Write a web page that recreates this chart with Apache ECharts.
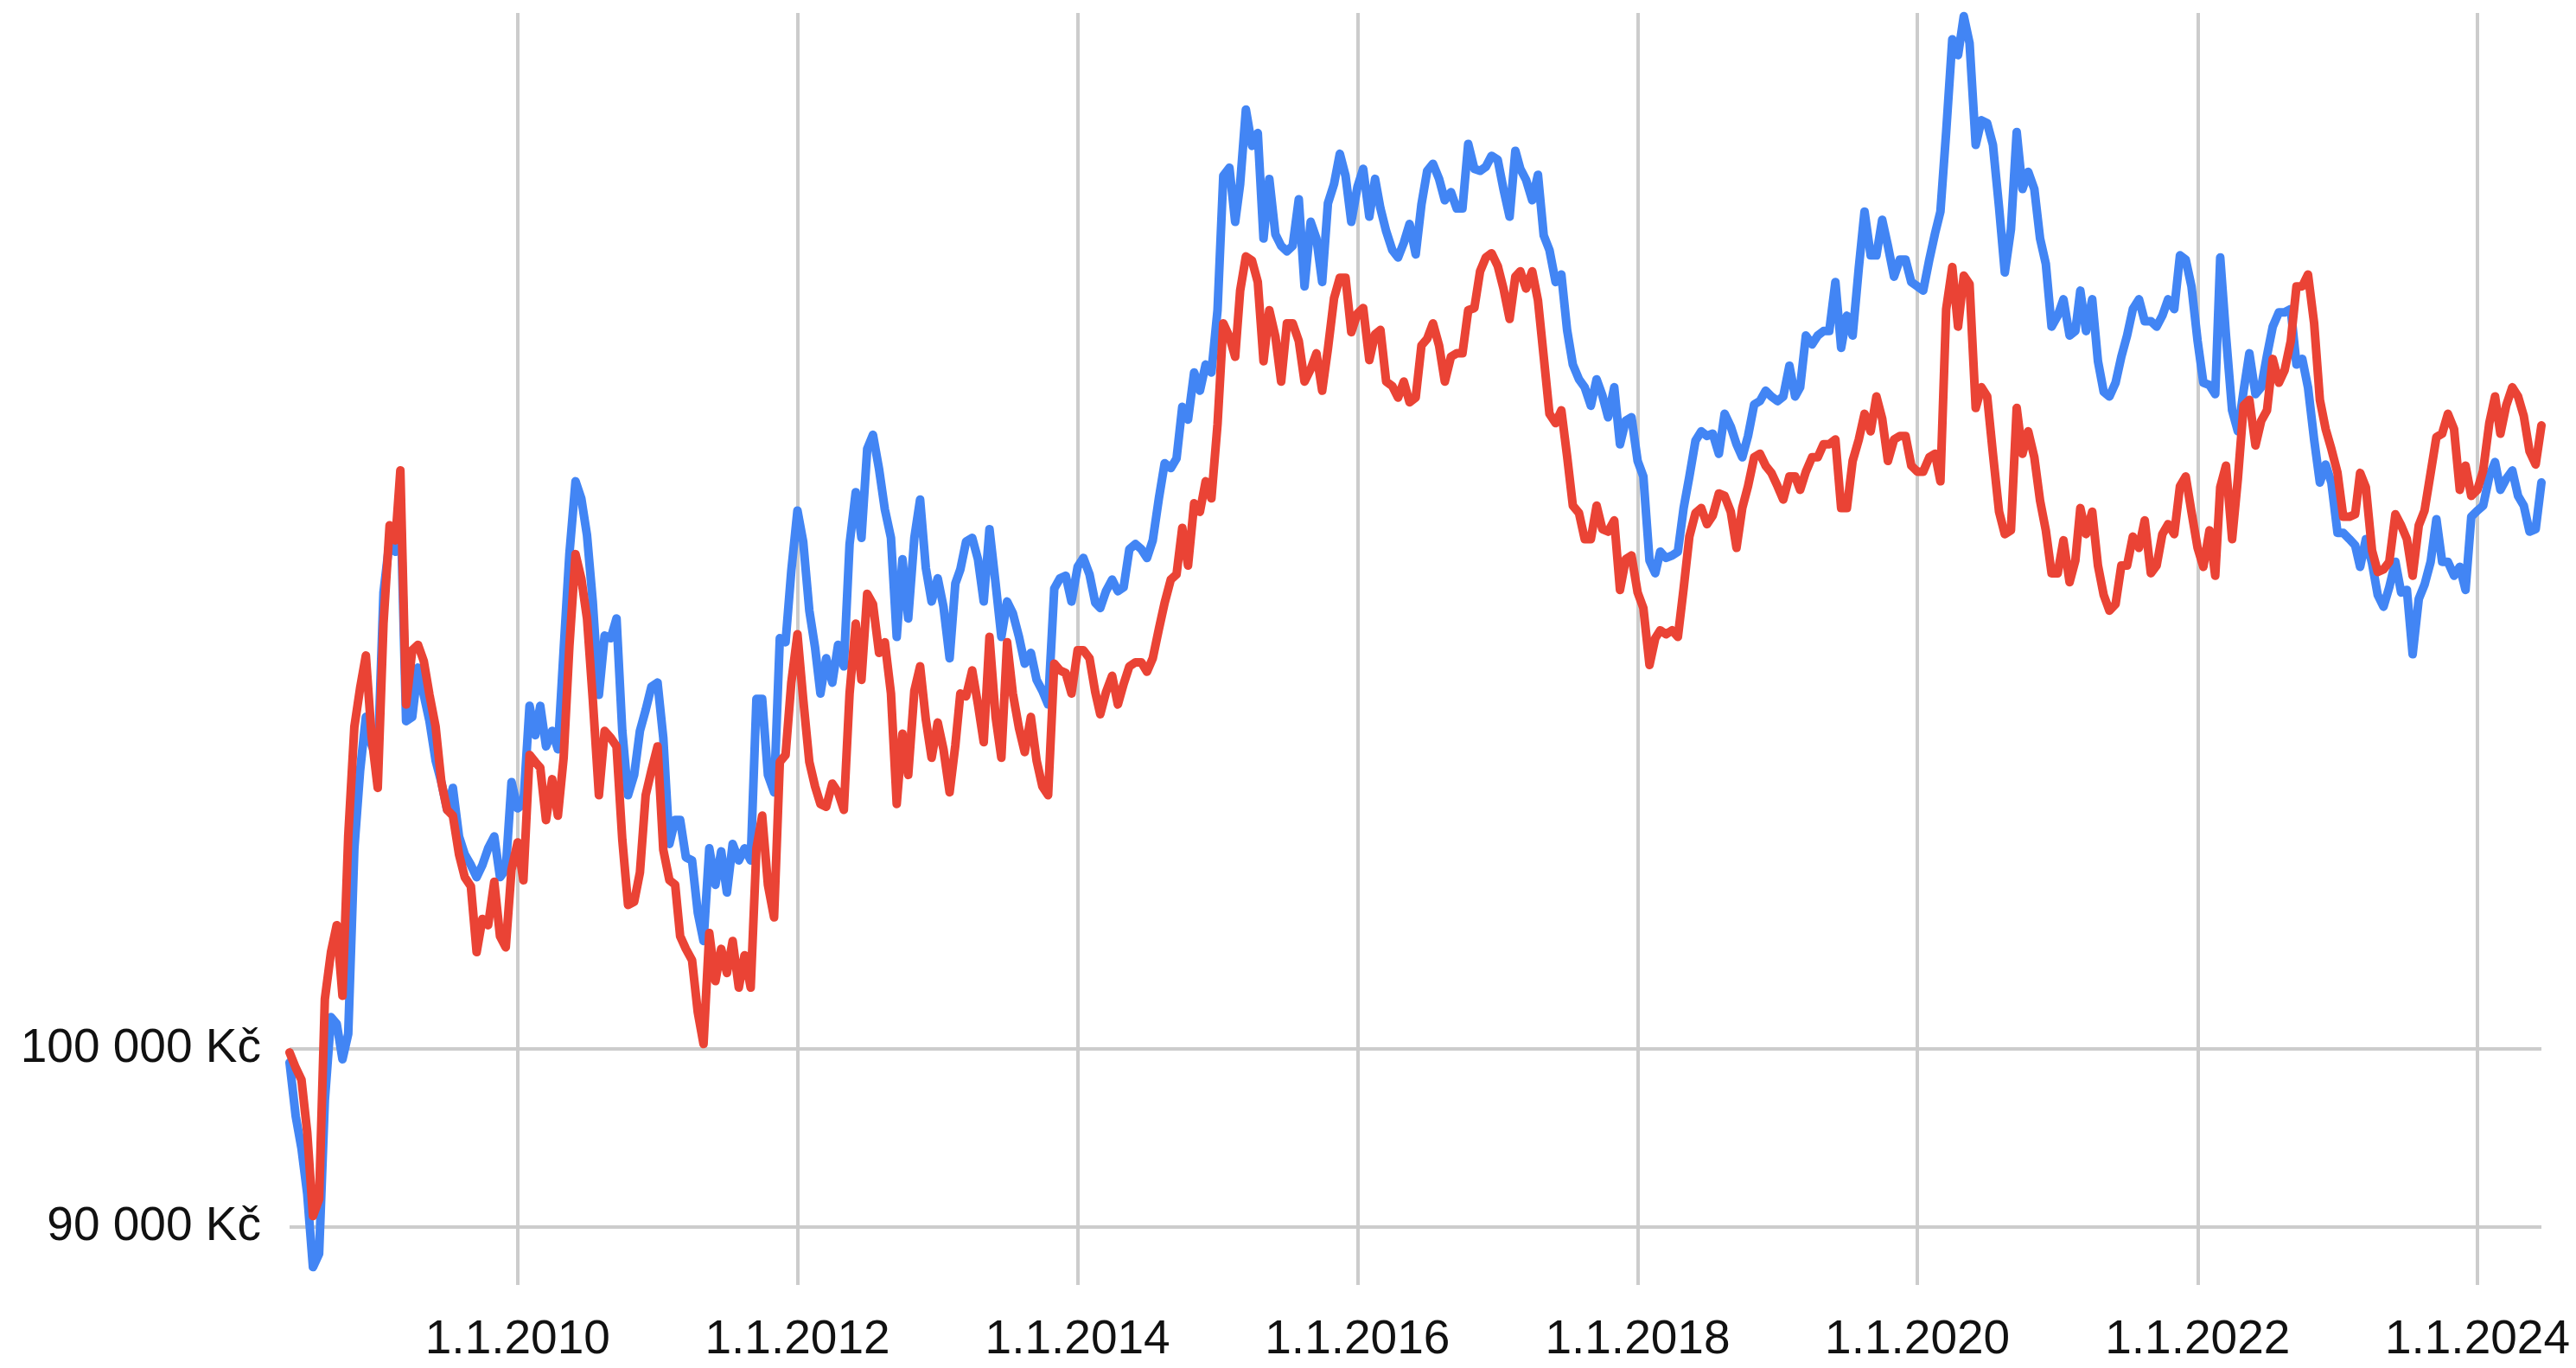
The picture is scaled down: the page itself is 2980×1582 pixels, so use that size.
<!DOCTYPE html>
<html>
<head>
<meta charset="utf-8">
<script src="https://cdn.jsdelivr.net/npm/echarts@6/dist/echarts.min.js"></script>
<style>
  html, body { margin: 0; padding: 0; background: #fff; }
  #chart { width: 2980px; height: 1582px; }
</style>
</head>
<body>
<div id="chart"></div>
<script>
// semi-monthly dates (1st and 16th), 16.5.2008 - 16.6.2024
const startDate = new Date(2008, 4, 16)
const endDate = new Date(2024, 5, 16)
const dates = []
for (let y = 2008; y <= 2024; y++) {
  for (let m = 0; m < 12; m++) {
    for (const d of [1, 16]) {
      const t = new Date(y, m, d)
      if (t >= startDate && t <= endDate) dates.push(t.getTime())
    }
  }
}

// blue series, Kč
const blueValues = [
  99200, 96100, 94300, 91800, 87900, 88600, 97000, 101900, 101500, 99400, 100900, 112600, 117900, 121700, 119700,
  118600, 131000, 135100, 134200, 138500, 121400, 121700, 125300, 123300, 121400, 118600, 117100, 115200, 116700, 113400,
  112200, 111500, 110700, 111500, 112600, 113400, 110700, 111200, 117100,
  115300, 115600, 122500, 120400, 122500, 119600, 120700, 119400, 126600, 134000, 139900, 138500, 135500, 130300, 123300, 127700,
  127500, 129000, 120700, 116200, 117600, 120700, 122200, 123900, 124200, 120200, 112900, 114500, 114500, 112000, 111800, 108400,
  106600, 112600, 110200, 112400, 109700, 112900, 111800, 112600, 111800, 123000, 123000, 117600, 116400, 127500, 127200, 132700,
  137500, 135000, 129600, 126800, 123400, 126000, 124200, 127000, 125400, 134800, 139000, 135300, 142600, 143800, 140900, 137600,
  135300, 127600, 133600, 129000, 135300, 138400, 132900, 130300, 132100, 129900, 126000, 131700, 132800, 135000, 135300, 133600,
  130300, 136000, 131700, 127600, 130300, 129400, 127600, 125600, 126400, 124400, 123600, 122600, 131300, 132100, 132300, 130300,
  133000, 133700, 132400, 130200, 129800, 131100, 132000, 131100, 131400, 134400, 134800, 134400, 133700, 135100, 138500, 141400,
  141000, 141800, 146200, 145100, 149200, 147600, 149900, 149200, 154800, 167600, 168400, 163100, 166800, 174300, 170600, 171900,
  161500, 167300, 161900, 160800, 160300, 160800, 165300, 157000, 163100, 161500, 157400, 164900, 166800, 169800, 167600, 163100,
  166500, 168300, 163600, 167300, 164400, 162200, 160400, 159700, 161100, 162900, 160000, 164800, 168100, 168800, 167300, 165200,
  166000, 164400, 164400, 170800, 168300, 168100, 168500, 169600, 169200, 166300, 163600, 170100, 168300, 167200, 165200, 167700,
  161800, 160400, 157400, 158100, 153000, 149900, 148600, 147900, 146300, 148600, 147200, 145300, 147900, 143000, 145000, 145300,
  141600, 140300, 133500, 132500, 134200, 133700, 133900, 134200, 137700, 140300, 143300, 144100, 143700, 143900, 142200, 145600,
  144500, 143000, 141900, 143700, 146400, 146700, 147600, 147100,
  146700, 147100, 149800, 147100, 147900, 152500, 151700, 152500, 152900, 152900, 157400, 151400, 154300, 152500, 158700, 164100,
  159900, 159900, 163300, 160800, 157900, 159500, 159500, 157400,
  157000, 156600, 159500, 162000, 164100, 172000, 181700, 180000, 184200, 181300, 170700, 173200, 172900, 170700, 164500, 158300,
  162400, 172000, 166300, 168000, 166300, 161500, 159100, 153300,
  154300, 155800, 152500, 152900, 156600, 152900, 155800, 150200, 147500, 147100, 148300, 150600, 152500, 154900, 155800, 153800,
  153800, 153300, 154300, 155800, 154900, 159900, 159500, 157000,
  152000, 148300, 148100, 147300, 159700, 152500, 145900, 144100, 147600, 150900, 147300, 147900, 150700, 153300, 154600, 154600,
  154900, 149900, 150400, 147900, 143400, 139800, 141300, 139800,
  135700, 135700, 135200, 134700, 133000, 135200, 133300, 130800, 129900, 131400, 133400, 131000, 131200, 126300, 130500, 131600,
  133400, 136800, 133400, 133400, 132300, 133000, 131200, 137000,
  137500, 137900, 140300, 141500, 139200, 140100, 140800, 138700, 137900, 135800, 136000, 139800
]

// red series, Kč
const redValues = [
  99800, 98900, 98200, 95200, 90600, 91500, 103000, 105900, 107600, 103200, 113400, 121000, 123800, 126200, 120300,
  116700, 128600, 136300, 135100, 140800, 122600, 126600, 127000, 125800, 123300, 121000, 117100, 115200, 114800, 112200,
  110700, 110100, 105900, 108000, 107600, 110400, 106900, 106200, 111200,
  113000, 110500, 119000, 118500, 118100, 114500, 117300, 114800, 118800, 126900, 134000, 132100, 129000, 123000, 116200, 120700,
  120200, 119600, 113200, 108900, 109100, 111000, 116200, 117900, 119600, 112500, 110500, 110200, 106900, 106100, 105400, 102200,
  100300, 107100, 104100, 106100, 104600, 106600, 103700, 105700, 103700, 112600, 114800, 110200, 108100, 118500, 119000, 124200,
  127800, 123000, 118500, 116800, 115600, 115400, 117000, 116400, 115200, 123400, 128600, 124400, 130900, 130100, 126400, 127200,
  123400, 115600, 120500, 117600, 123600, 125400, 121500, 118800, 121300, 119400, 116400, 119700, 123400, 123200, 125100, 122600,
  119900, 127600, 121700, 118800, 127200, 123400, 120900, 119200, 121700, 118600, 116800, 116200, 125600, 125100, 124900, 123400,
  126600, 126600, 126000, 123500, 121900, 123500, 124700, 122600, 124100, 125400, 125700, 125700, 125000, 126000, 128200, 130200,
  132000, 132400, 136100, 133100, 138100, 137400, 139900, 138500, 144700, 153600, 152400, 150600, 156600, 159800, 159400, 157400,
  150200, 154800, 152400, 148400, 153600, 153600, 152000, 148400, 149500, 150900, 147600, 151300, 155900, 157800, 157800, 152800,
  154500, 155000, 150300, 152600, 153000, 148400, 148000, 147000, 148400, 146600, 147000, 151600, 152200, 153600, 151600, 148400,
  150600, 150900, 150900, 154800, 155000, 158400, 159700, 160100, 158900, 156800, 154000, 157900, 158400, 156800, 158400, 155700,
  150600, 145600, 144800, 145900, 142000, 137900, 137300, 135200, 135200, 137900, 136000, 135800, 136700, 131200, 133600, 133900,
  131000, 129800, 125500, 127500, 128100, 127800, 128100, 127600, 131300, 135400, 137300, 137700, 136400, 137100, 138900, 138700,
  137400, 134500, 137700, 139500, 141900, 142200, 141200, 140600,
  139500, 138400, 140300, 140300, 139200, 140700, 141900, 141900, 143000, 143000, 143400, 137700, 137700, 141600, 143400, 145600,
  144100, 147100, 145200, 141600, 143400, 143700, 143700, 141200,
  140700, 140700, 141900, 142200, 139900, 154900, 158800, 153300, 158000, 157200, 146100, 147900, 147100, 142200, 137400, 135600,
  135900, 146100, 142200, 144100, 141900, 138300, 135900, 132500,
  132500, 135100, 131800, 133500, 137700, 135600, 137400, 133100, 130800, 129600, 130100, 133100, 133100, 135400, 134500, 136700,
  132500, 133100, 135600, 136400, 135600, 139500, 140300, 137400,
  134500, 133000, 135900, 132300, 139400, 141200, 135200, 140100, 146300, 146800, 142900, 145000, 145900, 150400, 148300, 149400,
  152000, 157000, 157000, 158100, 153600, 146800, 144300, 142600,
  140600, 137000, 137000, 137200, 140600, 139400, 134300, 132600, 132800, 133400, 137200, 136300, 135200, 132300, 136300, 137500,
  140600, 143600, 143900, 145600, 144300, 139200, 141200, 138700,
  139200, 140800, 144800, 147100, 143900, 146300, 147900, 147100, 145400, 142400, 141300, 144600
]

const xTicks = [2010, 2012, 2014, 2016, 2018, 2020, 2022, 2024].map(y => new Date(y, 0, 1).getTime())
const yTicks = [90000, 100000]

const fontFamily = '"Liberation Sans", Arial, sans-serif'

function fmtDate(v) {
  const d = new Date(v)
  return d.getDate() + '.' + (d.getMonth() + 1) + '.' + d.getFullYear()
}

function fmtKc(v) {
  return String(Math.round(v)).replace(/\B(?=(\d{3})+(?!\d))/g, ' ') + ' Kč'
}

const mychart = echarts.init(document.getElementById('chart'))
mychart.setOption({
  animation: false,
  color: ['#4285f4', '#ea4335'],
  grid: {
    top: 15,
    left: 335,
    right: 40,
    bottom: 96,
  },
  // dates as timestamps on a value axis, ticks at 1.1. of even years
  xAxis: {
    type: 'value',
    min: dates[0],
    max: dates[dates.length - 1],
    axisLine: { show: false },
    axisTick: { show: false, customValues: xTicks },
    axisLabel: {
      customValues: xTicks,
      formatter: fmtDate,
      fontFamily: fontFamily,
      fontSize: 55,
      lineHeight: 55,
      color: '#111',
      margin: 36,
      showMinLabel: true,
      showMaxLabel: true,
    },
    splitLine: { show: true, lineStyle: { color: '#cccccc', width: 4 } },
  },
  yAxis: {
    type: 'log',
    logBase: 10,
    min: 86975,
    max: 184550,
    axisLine: { show: false },
    axisTick: { show: false, customValues: yTicks },
    axisLabel: {
      customValues: yTicks,
      formatter: fmtKc,
      fontFamily: fontFamily,
      fontSize: 55,
      color: '#111',
      margin: 33,
    },
    splitLine: { show: true, lineStyle: { color: '#cccccc', width: 4 } },
  },
  series: [
    {
      name: 'blue',
      type: 'line',
      showSymbol: false,
      data: dates.map((t, i) => [t, blueValues[i]]),
      lineStyle: { width: 10, join: 'round', cap: 'round' },
    },
    {
      name: 'red',
      type: 'line',
      showSymbol: false,
      data: dates.map((t, i) => [t, redValues[i]]),
      lineStyle: { width: 10, join: 'round', cap: 'round' },
    },
  ],
})
</script>
</body>
</html>
